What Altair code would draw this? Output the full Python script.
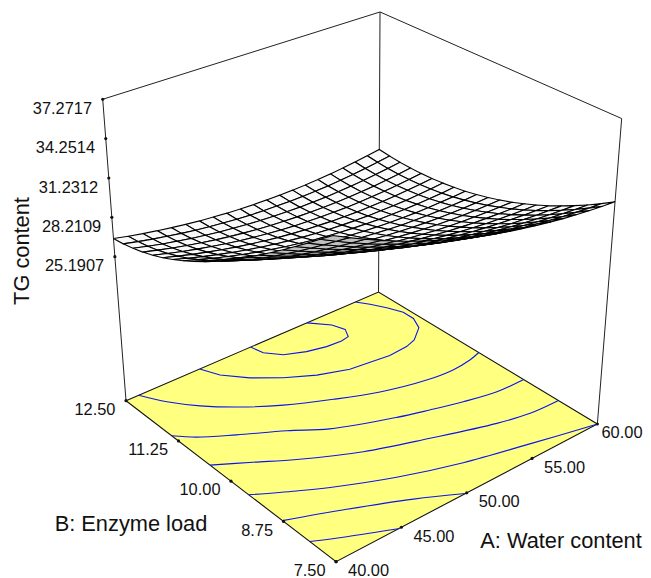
import altair as alt
import pandas as pd

A_VALUES = [40 + i for i in range(21)]
B_VALUES = [12.5 - 0.25 * j for j in range(21)]
Z_FLOOR, Z_TOP = 14.13, 37.2717

R00 = [27.00, 26.77, 26.56, 26.38, 26.21, 26.06, 25.93, 25.83, 25.74, 25.67, 25.63, 25.61, 25.60, 25.62, 25.65, 25.71, 25.79, 25.89, 26.01, 26.15, 26.30]
R01 = [27.09, 26.85, 26.63, 26.44, 26.25, 26.09, 25.95, 25.84, 25.74, 25.66, 25.61, 25.59, 25.57, 25.58, 25.60, 25.65, 25.72, 25.81, 25.93, 26.06, 26.20]
R02 = [27.25, 26.99, 26.75, 26.55, 26.35, 26.18, 26.03, 25.91, 25.80, 25.71, 25.65, 25.61, 25.58, 25.58, 25.59, 25.64, 25.70, 25.78, 25.88, 26.00, 26.13]
R03 = [27.46, 27.19, 26.94, 26.71, 26.51, 26.32, 26.16, 26.02, 25.90, 25.80, 25.73, 25.68, 25.64, 25.63, 25.63, 25.66, 25.71, 25.78, 25.87, 25.98, 26.11]
R04 = [27.72, 27.44, 27.17, 26.93, 26.71, 26.51, 26.33, 26.18, 26.05, 25.94, 25.85, 25.79, 25.74, 25.72, 25.71, 25.73, 25.77, 25.83, 25.91, 26.01, 26.12]
R05 = [28.04, 27.74, 27.45, 27.20, 26.96, 26.75, 26.56, 26.39, 26.24, 26.12, 26.02, 25.95, 25.88, 25.85, 25.83, 25.84, 25.86, 25.91, 25.98, 26.06, 26.16]
R06 = [28.41, 28.08, 27.78, 27.51, 27.26, 27.03, 26.82, 26.64, 26.48, 26.34, 26.23, 26.14, 26.07, 26.02, 25.99, 25.99, 26.00, 26.03, 26.09, 26.16, 26.25]
R07 = [28.82, 28.48, 28.16, 27.87, 27.60, 27.36, 27.14, 26.94, 26.77, 26.61, 26.49, 26.38, 26.30, 26.24, 26.19, 26.17, 26.17, 26.20, 26.24, 26.29, 26.37]
R08 = [29.27, 28.91, 28.57, 28.27, 27.98, 27.72, 27.49, 27.28, 27.09, 26.92, 26.78, 26.66, 26.56, 26.49, 26.43, 26.40, 26.38, 26.39, 26.42, 26.46, 26.52]
R09 = [29.76, 29.38, 29.03, 28.71, 28.41, 28.13, 27.88, 27.65, 27.45, 27.27, 27.11, 26.98, 26.87, 26.78, 26.70, 26.66, 26.63, 26.63, 26.64, 26.67, 26.72]
R10 = [30.29, 29.90, 29.53, 29.18, 28.87, 28.57, 28.31, 28.06, 27.85, 27.65, 27.48, 27.34, 27.21, 27.11, 27.02, 26.96, 26.92, 26.90, 26.90, 26.92, 26.95]
R11 = [30.86, 30.44, 30.05, 29.69, 29.36, 29.05, 28.77, 28.51, 28.28, 28.07, 27.89, 27.72, 27.58, 27.47, 27.37, 27.30, 27.24, 27.21, 27.20, 27.20, 27.22]
R12 = [31.45, 31.02, 30.61, 30.24, 29.89, 29.56, 29.27, 28.99, 28.75, 28.52, 28.33, 28.15, 28.00, 27.87, 27.75, 27.67, 27.60, 27.56, 27.53, 27.52, 27.52]
R13 = [32.08, 31.63, 31.20, 30.81, 30.44, 30.10, 29.79, 29.50, 29.24, 29.01, 28.80, 28.61, 28.44, 28.30, 28.17, 28.08, 27.99, 27.94, 27.90, 27.87, 27.87]
R14 = [32.73, 32.26, 31.82, 31.41, 31.03, 30.67, 30.35, 30.05, 29.77, 29.52, 29.30, 29.10, 28.92, 28.76, 28.63, 28.52, 28.42, 28.35, 28.30, 28.26, 28.25]
R15 = [33.40, 32.92, 32.46, 32.03, 31.64, 31.27, 30.93, 30.61, 30.33, 30.07, 29.83, 29.62, 29.43, 29.26, 29.11, 28.99, 28.89, 28.81, 28.74, 28.69, 28.66]
R16 = [34.09, 33.59, 33.12, 32.68, 32.27, 31.89, 31.54, 31.21, 30.91, 30.64, 30.39, 30.17, 29.97, 29.79, 29.63, 29.50, 29.38, 29.29, 29.21, 29.16, 29.12]
R17 = [34.80, 34.29, 33.80, 33.35, 32.93, 32.53, 32.17, 31.83, 31.52, 31.24, 30.98, 30.74, 30.53, 30.35, 30.18, 30.04, 29.91, 29.81, 29.72, 29.66, 29.61]
R18 = [35.52, 35.00, 34.50, 34.03, 33.60, 33.20, 32.82, 32.47, 32.15, 31.86, 31.59, 31.35, 31.13, 30.93, 30.76, 30.61, 30.47, 30.36, 30.27, 30.19, 30.13]
R19 = [36.26, 35.72, 35.21, 34.73, 34.29, 33.88, 33.49, 33.13, 32.81, 32.50, 32.23, 31.98, 31.75, 31.55, 31.36, 31.21, 31.07, 30.95, 30.85, 30.76, 30.70]
R20 = [37.00, 36.45, 35.93, 35.44, 34.99, 34.57, 34.18, 33.81, 33.48, 33.17, 32.89, 32.63, 32.40, 32.19, 32.00, 31.84, 31.69, 31.57, 31.46, 31.37, 31.30]
Z_TABLE = [R00, R01, R02, R03, R04, R05, R06, R07, R08, R09, R10, R11, R12, R13, R14, R15, R16, R17, R18, R19, R20]

C1_A = [49.40, 49.61, 50.43, 51.77, 53.11, 54.26, 54.91, 55.32, 55.00, 53.94]
C1_B = [12.5, 12.24, 11.99, 11.83, 11.74, 11.72, 11.75, 11.95, 12.19, 12.5]
C2_A = [45.45, 46.02, 47.23, 48.82, 50.58, 52.56, 54.03, 55.48, 56.98, 57.87, 59.08, 59.56, 59.56, 59.11, 58.55, 58.01]
C2_B = [12.5, 12.16, 11.80, 11.47, 11.20, 11.0, 10.95, 10.90, 10.93, 11.0, 11.23, 11.50, 11.75, 12.03, 12.29, 12.5]
C3_A = [40.92, 41.82, 43.10, 44.86, 46.98, 49.67, 52.35, 55.40, 57.41, 58.98, 60]
C3_B = [12.5, 12.08, 11.67, 11.26, 10.88, 10.52, 10.22, 10.01, 9.96, 10.0, 10.07]
C4_A = [40, 41.03, 42.96, 45.48, 47.54, 51.35, 53.38, 55.51, 57.81, 60]
C4_B = [11.30, 11.04, 10.71, 10.32, 9.95, 9.54, 9.37, 9.21, 9.08, 9.06]
C5_A = [40, 42.06, 44.14, 47.57, 51.43, 55.48, 57.73, 60]
C5_B = [10.35, 10.01, 9.66, 9.19, 8.82, 8.47, 8.34, 8.31]
C6_A = [40, 42.27, 43.92, 47.42, 51.27, 55.51, 59.95]
C6_B = [9.43, 9.07, 8.83, 8.41, 8.06, 7.78, 7.5]
C7_A = [40, 43.35, 46.80, 49.37]
C7_B = [8.66, 8.29, 7.87, 7.5]
C8_A = [40, 41.80, 44.40]
C8_B = [8.06, 7.82, 7.5]
CONTOURS = [(C1_A, C1_B), (C2_A, C2_B), (C3_A, C3_B), (C4_A, C4_B), (C5_A, C5_B), (C6_A, C6_B), (C7_A, C7_B), (C8_A, C8_B)]

Z_TICKS = [37.2717, 34.2514, 31.2312, 28.2109, 25.1907]
A_TICKS = [40, 45, 50, 55, 60]
B_TICKS = [12.5, 11.25, 10, 8.75, 7.5]

def project(a, b, z):
    u, v, t = (a - 40) / 20, (12.5 - b) / 5, (z - Z_FLOOR) / (Z_TOP - Z_FLOOR)
    d = 1 + .0985 * u - .1162 * v - .0712 * t
    lean = -30.6 * (1 - u) * (1 - v) - 25.4 * u * (1 - v) - 20.4 * u * v - 26.4 * (1 - u) * v
    return (126 + 289.8 * u + 171 * v + lean * t) / d, (400.7 - 79.9 * u + 95.7 * v - 308.5 * t) / d

def between(p, q, s):
    return p[0] + (q[0] - p[0]) * s, p[1] + (q[1] - p[1]) * s

W, H = 635, 570
sx = alt.Scale(domain=[8, 8 + W], range=[0, W], nice=False, zero=False)
sy = alt.Scale(domain=[8, 8 + H], range=[0, H], nice=False, zero=False)
X = alt.X("x:Q", scale=sx, axis=None)
Y = alt.Y("y:Q", scale=sy, axis=None)

def polyline(points, **kw):
    df = pd.DataFrame([{"x": p[0], "y": p[1], "o": i} for i, p in enumerate(points)])
    return alt.Chart(df).mark_line(**kw).encode(x=X, y=Y, order="o:Q")

L, BK, R, F = (40, 12.5), (60, 12.5), (60, 7.5), (40, 7.5)
def fl(c): return project(c[0], c[1], Z_FLOOR)
def tp(c): return project(c[0], c[1], Z_TOP)

layers = []
rim = dict(stroke="#222222", strokeWidth=1, interpolate="linear")
layers.append(polyline([fl(L), tp(L), tp(BK), tp(R), fl(R)], **rim))
layers.append(polyline([fl(L), fl(BK), fl(R), fl(F), fl(L)], fill="#ffff80", stroke="#111111", strokeWidth=1.1))
for i, (ca, cb) in enumerate(CONTOURS):
    layers.append(polyline([project(a, b, Z_FLOOR) for a, b in zip(ca, cb)], stroke="#0a14f0", strokeWidth=1.1,
                           interpolate="linear" if i < 2 else "catmull-rom"))
layers.append(polyline([fl(BK), tp(BK)], stroke="#222222", strokeWidth=1))

rows = []
qid = 0
for j in range(20):
    for i in range(19, -1, -1):
        pts = [project(A_VALUES[p], B_VALUES[q], Z_TABLE[q][p]) for p, q in [(i, j), (i + 1, j), (i + 1, j + 1), (i, j + 1)]]
        area = sum(pts[k][0] * pts[(k + 1) % 4][1] - pts[(k + 1) % 4][0] * pts[k][1] for k in range(4))
        face = "#c0c0c0" if area < -20 else "#fafafa"
        for k, idx in enumerate([0, 1, 2, 3, 0]):
            rows.append({"x": pts[idx][0], "y": pts[idx][1], "o": k, "q": qid, "f": face})
        qid += 1
surf = alt.Chart(pd.DataFrame(rows)).mark_line(stroke="#000000", strokeWidth=1.1).encode(
    x=X, y=Y, order="o:Q", detail="q:N", fill=alt.Fill("f:N", scale=None))
layers.append(surf)

ticks, labels = [], []
for k, val in enumerate(Z_TICKS):
    s = (Z_TOP - val) / (Z_TOP - Z_TICKS[-1]) * (256.7 - 99.3) / 301.4
    p = between(tp(L), fl(L), s)
    ticks.append(p)
    labels.append({"x": p[0] - 10.7, "y": p[1] + 9.7, "t": f"{val:.4f}", "a": "right"})
for k, val in enumerate(B_TICKS):
    p = between(fl(L), fl(F), k / 4)
    ticks.append(p)
    labels.append({"x": p[0] - 10.5, "y": p[1] + 9.3, "t": f"{val:.2f}", "a": "right"})
for k, val in enumerate(A_TICKS):
    p = between(fl(F), fl(R), k / 4)
    ticks.append(p)
    labels.append({"x": min(p[0] + 12, 601.5), "y": p[1] + 9.3, "t": f"{val:.2f}", "a": "left"})
layers.append(alt.Chart(pd.DataFrame(ticks, columns=["x", "y"])).mark_circle(size=10, color="#111111", opacity=1).encode(x=X, y=Y))

lab = pd.DataFrame(labels)
for a in ["left", "right"]:
    layers.append(alt.Chart(lab[lab.a == a]).mark_text(align=a, baseline="middle", font="Liberation Sans", fontSize=16.4, color="#111111").encode(x=X, y=Y, text="t:N"))

titles = pd.DataFrame([
    {"x": 131, "y": 524, "t": "B: Enzyme load"},
    {"x": 561, "y": 541, "t": "A: Water content"},
])
layers.append(alt.Chart(titles).mark_text(align="center", baseline="middle", font="Liberation Sans", fontSize=21.8, color="#111111").encode(x=X, y=Y, text="t:N"))
layers.append(alt.Chart(pd.DataFrame([{"x": 22, "y": 251, "t": "TG content"}])).mark_text(angle=270, align="center", baseline="middle", font="Liberation Sans", fontSize=21.8, color="#111111").encode(x=X, y=Y, text="t:N"))

chart = alt.layer(*layers).properties(width=W, height=H, padding=0, autosize=alt.AutoSizeParams(type="none"), background="white").configure_view(stroke=None)
chart.save("out.html", embed_options={"renderer": "svg", "actions": False})
